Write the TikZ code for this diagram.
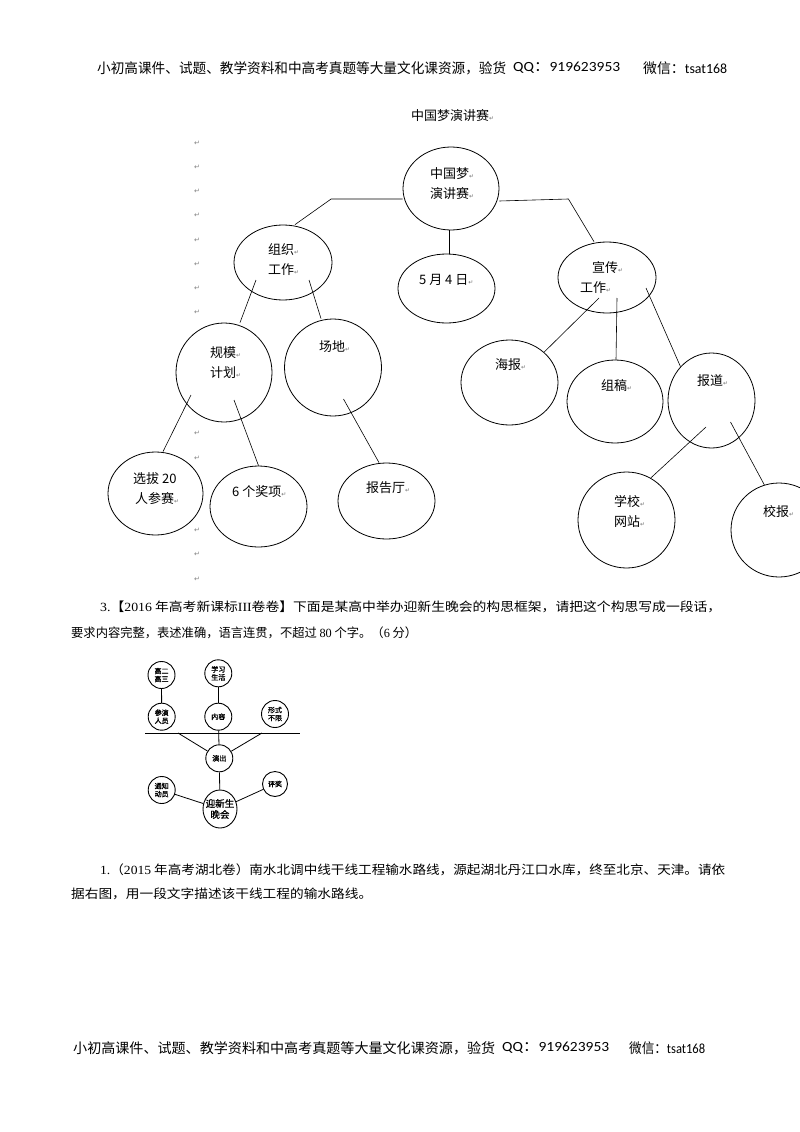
\documentclass[tikz,border=0pt]{standalone}
\usepackage{fontspec}
\usepackage{graphicx}
\usetikzlibrary{shapes.geometric,positioning,calc}
\setmainfont{Noto Sans CJK SC}
\newfontfamily\cjkb[FakeBold=1.2]{Noto Sans CJK SC}
\newfontfamily\carl{Carlito}
\newfontfamily\tnr{Liberation Serif}
\newfontfamily\dvs{DejaVu Sans}
\newcommand{\pmk}{{\dvs\fontsize{6}{6}\selectfont\color{black!55}↵}}
\newcommand{\fitw}[2]{\resizebox{#1}{\height}{#2}}

\begin{document}
\begin{tikzpicture}[x=1pt, y=-1pt,
  bub/.style={ellipse, draw, fill=white, line width=0.8pt, inner sep=0pt},
  sbub/.style={circle, draw, fill=white, line width=0.9pt, inner sep=0pt, minimum size=27pt,
    font=\cjkb\fontsize{7}{8}\selectfont, align=center},
  txt/.style={inner sep=0pt, anchor=west, font=\fontsize{13}{20}\selectfont, align=left},
  para/.style={inner sep=0pt, anchor=west, font=\fontsize{12.5}{14}\selectfont},
  head/.style={inner sep=0pt, anchor=west, font=\fontsize{14}{16}\selectfont},
  pmark/.style={inner sep=0pt, font=\dvs\fontsize{7}{7}\selectfont, text=black!50},
  link/.style={line width=0.6pt},
  slink/.style={line width=0.8pt}]

\path[use as bounding box, fill=white] (0,0) rectangle (800,1132);

% header
\node[head] (hdr1) at (97,68) {\fitw{409pt}{小初高课件、试题、教学资料和中高考真题等大量文化课资源，验货}};
\node[head] (hdr2) at (513,68) {\fitw{107pt}{{\carl QQ}：{\carl 919623953}}};
\node[head] (hdr3) at (643,68) {\fitw{84pt}{微信：{\carl tsat168}}};

% first picture: speech contest
\begin{scope}
\clip (100,95) rectangle (800,580);
\node[txt] (title) at (411,116) {中国梦演讲赛\pmk};

% paragraph marks down the left
\foreach \k in {0,...,18}
  \node[pmark] (pm\k) at (197,{143+24.22*\k}) {↵};

\node[bub, minimum width=96pt, minimum height=83pt] (zhongguo) at (451,188.5) {};
\node[bub, minimum width=98pt, minimum height=75pt] (zuzhi) at (283,262.5) {};
\node[bub, minimum width=97pt, minimum height=69pt] (riqi) at (446.5,288.5) {};
\node[bub, minimum width=98pt, minimum height=71pt] (xuanchuan) at (607,277.5) {};
\node[bub, minimum width=96pt, minimum height=99pt] (guimo) at (224,372.5) {};
\node[bub, minimum width=97pt, minimum height=97pt] (changdi) at (333,367.5) {};
\node[bub, minimum width=95pt, minimum height=83pt] (xuanba) at (155.5,493.5) {};
\node[bub, minimum width=97pt, minimum height=81pt] (jiangxiang) at (258.5,506.5) {};
\node[bub, minimum width=97pt, minimum height=76pt] (baogaoting) at (386.5,501) {};
\node[bub, minimum width=97pt, minimum height=85pt] (haibao) at (509.5,382.5) {};
\node[bub, minimum width=96pt, minimum height=83pt] (zugao) at (615,401.5) {};
\node[bub, minimum width=87pt, minimum height=95pt] (baodao) at (711.5,400.5) {};
\node[bub, minimum width=97pt, minimum height=96pt] (wangzhan) at (626.5,520) {};
\node[bub, minimum width=96pt, minimum height=94pt] (xiaobao) at (779,530) {};

% labels
\node[txt] (zhongguo-t) at (430,184) {中国梦\pmk\\演讲赛\pmk};
\node[txt] (zuzhi-t) at (268,260) {组织\pmk\\工作\pmk};
\node[txt] (riqi-t) at (419,280) {5 月 4 日\pmk};
\node[txt] (xuanchuan-t) at (580,278) {\hspace*{12pt}宣传\pmk\\工作\pmk};
\node[txt] (guimo-t) at (210,363) {规模\pmk\\计划\pmk};
\node[txt] (changdi-t) at (319,347) {场地\pmk};
\node[txt] (xuanba-t) at (133,489) {选拔 20\\\hspace*{2pt}人参赛\pmk};
\node[txt] (jiangxiang-t) at (232,492) {6 个奖项\pmk};
\node[txt] (baogaoting-t) at (366,488) {报告厅\pmk};
\node[txt] (haibao-t) at (495,365) {海报\pmk};
\node[txt] (zugao-t) at (601,386) {组稿\pmk};
\node[txt] (baodao-t) at (697,381) {报道\pmk};
\node[txt] (wangzhan-t) at (614,511) {学校\pmk\\网站\pmk};
\node[txt] (xiaobao-t) at (763,512) {校报\pmk};

% connectors
\draw[link] ([yshift=-10.5pt]zhongguo.west) -- ++(-71.5,0) -- ([xshift=12pt]zuzhi.north);
\draw[link] ([yshift=-12.5pt]zhongguo.east) -- ++(69,-2) -- ([xshift=-13pt]xuanchuan.north);
\draw[link] ([xshift=-2pt]zhongguo.south) -- ([xshift=2.5pt]riqi.north);
\draw[link] ($(zuzhi)+(-27,17.5)$) -- ([xshift=16pt]guimo.north);
\draw[link] ($(zuzhi)+(26,17.5)$) -- ([xshift=-12pt]changdi.north);
\draw[link] ($(guimo)+(-33,22.5)$) -- ([xshift=7.5pt]xuanba.north);
\draw[link] ($(guimo)+(10,27.5)$) -- (jiangxiang.north);
\draw[link] ($(changdi)+(10.5,31.5)$) -- ([xshift=-7.5pt]baogaoting.north);
\draw[link] ($(xuanchuan)+(-8,20.5)$) -- (haibao.north east);
\draw[link] ($(xuanchuan)+(10,20.5)$) -- ([xshift=1pt]zugao.north);
\draw[link] ($(xuanchuan)+(39,10.5)$) -- (baodao.north west);
\draw[link] ($(baodao)+(-5.5,26.5)$) -- (wangzhan.60);
\draw[link] ($(baodao)+(19,21.5)$) -- (xiaobao.108);
\end{scope}

% question 3
\node[para] (q3a) at (100,607) {\fitw{621pt}{{\tnr 3.}【{\tnr 2016} 年高考新课标{\tnr III}卷卷】下面是某高中举办迎新生晚会的构思框架，请把这个构思写成一段话，}};
\node[para] (q3b) at (71,633) {\fitw{346pt}{要求内容完整，表述准确，语言连贯，不超过 {\tnr 80} 个字。（{\tnr 6} 分）}};

% second picture: welcome party
\node[sbub] (gaoer) at (161.5,675) {高二\\高三};
\node[sbub] (xuexi) at (218.3,673.3) {学习\\生活};
\node[sbub] (canyan) at (161.7,716.7) {参演\\人员};
\node[sbub] (neirong) at (218.3,716.7) {内容};
\node[sbub] (xingshi) at (275,714) {形式\\不限};
\node[sbub] (yanchu) at (219.3,758.3) {演出};
\node[sbub] (tongzhi) at (161.7,790) {通知\\动员};
\node[sbub, minimum size=25pt] (pingjiang) at (275,784) {评奖};
\node[ellipse, draw, fill=white, line width=0.9pt, inner sep=0pt,
  minimum width=34pt, minimum height=38pt] (yingxin) at (220,809) {};
\node[inner sep=0pt, align=center, font=\cjkb\fontsize{9.5}{11}\selectfont] (yingxin-t) at (220,809) {迎新生\\晚会};

\coordinate (hl) at (145,733);
\coordinate (hr) at (300,733);
\coordinate (ja) at (178,733);
\coordinate (jb) at (262,733);
\draw[slink] (hl) -- (hr);
\draw[slink] (gaoer) -- (canyan);
\draw[slink] (xuexi) -- (neirong);
\draw[slink] (neirong) -- (yanchu);
\draw[slink] (ja) -- (yanchu);
\draw[slink] (jb) -- (yanchu);
\draw[slink] (yanchu) -- (yingxin);
\draw[slink] (tongzhi) -- (yingxin);
\draw[slink] (pingjiang) -- (yingxin);

% question 1
\node[para] (q1a) at (100,870) {\fitw{625pt}{{\tnr 1.}（{\tnr 2015} 年高考湖北卷）南水北调中线干线工程输水路线，源起湖北丹江口水库，终至北京、天津。请依}};
\node[para] (q1b) at (71,894) {\fitw{301pt}{据右图，用一段文字描述该干线工程的输水路线。}};

% footer
\node[head] (ftr1) at (73,1048) {\fitw{422pt}{小初高课件、试题、教学资料和中高考真题等大量文化课资源，验货}};
\node[head] (ftr2) at (502,1048) {\fitw{107pt}{{\carl QQ}：{\carl 919623953}}};
\node[head] (ftr3) at (629,1048) {\fitw{76pt}{微信：{\carl tsat168}}};
\end{tikzpicture}
\end{document}
